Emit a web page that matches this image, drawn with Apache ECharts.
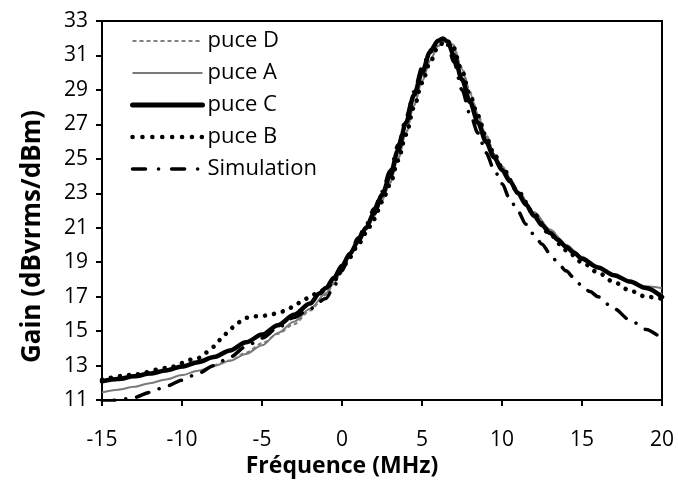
<!DOCTYPE html>
<html>
<head>
<meta charset="utf-8">
<script src="https://cdn.jsdelivr.net/npm/echarts@6/dist/echarts.min.js"></script>
<style>
html,body{margin:0;padding:0;background:#fff;}
#chart{width:678px;height:483px;}
</style>
</head>
<body>
<div id="chart"></div>
<script>
// ---- Data ----
const xTicks = [-15, -10, -5, 0, 5, 10, 15, 20];
const yTicks = [11, 13, 15, 17, 19, 21, 23, 25, 27, 29, 31, 33];

const seriesNames = ['puce D', 'puce A', 'puce C', 'puce B', 'Simulation'];

const puceD_x = [-8, -7, -6, -5, -4, -3, -2, -1, -0.5, 0, 0.5, 1, 1.5, 2, 2.5, 3, 3.5, 4, 4.5, 5, 5.5, 6, 6.5, 6.9, 7.5, 8, 8.5, 9, 9.5, 10, 11, 12, 13, 14, 15, 16, 17, 18, 19, 20];
const puceD_y = [13.0, 13.3, 13.75, 14.3, 14.85, 15.4, 16.2, 17.1, 17.75, 18.6, 19.4, 20.15, 20.9, 21.7, 22.6, 23.6, 25.0, 26.5, 28.1, 29.5, 30.7, 31.55, 31.9, 31.7, 30.3, 28.9, 27.6, 26.4, 25.4, 24.55, 23.1, 21.9, 20.9, 20.0, 19.3, 18.7, 18.2, 17.8, 17.45, 17.15];

const puceA_x = [-15, -14, -13, -12, -11, -10, -9, -8, -7, -6, -5, -4, -3, -2, -1, -0.5, 0, 0.5, 1, 1.5, 2, 2.5, 3, 3.5, 4, 4.5, 5, 5.5, 6, 6.5, 6.9, 7.5, 8, 8.5, 9, 9.5, 10, 11, 12, 13, 14, 15, 16, 17, 18, 19, 20];
const puceA_y = [11.44, 11.6, 11.77, 11.98, 12.2, 12.45, 12.71, 12.98, 13.28, 13.68, 14.18, 14.9, 15.55, 16.3, 17.2, 17.8, 18.6, 19.4, 20.2, 20.9, 21.7, 22.6, 23.6, 25.0, 26.5, 28.1, 29.5, 30.7, 31.55, 31.9, 31.65, 30.2, 28.8, 27.5, 26.3, 25.3, 24.5, 23.1, 21.9, 20.9, 20.0, 19.3, 18.7, 18.2, 17.85, 17.6, 17.49];

const puceC_x = [-15, -14, -13, -12, -11, -10, -9, -8, -7, -6, -5, -4, -3, -2, -1.4, -1, -0.5, 0, 0.5, 1, 1.5, 2, 2.5, 3, 3.5, 4, 4.5, 5, 5.5, 6, 6.3, 6.6, 7, 7.5, 8, 8.5, 9, 9.5, 10, 10.5, 11, 11.5, 12, 12.5, 13, 13.5, 14, 14.5, 15, 16, 17, 18, 19, 20];
const puceC_y = [12.09, 12.22, 12.38, 12.54, 12.72, 12.95, 13.2, 13.5, 13.88, 14.35, 14.8, 15.35, 15.95, 16.6, 17.2, 17.5, 18.1, 18.8, 19.5, 20.2, 21.0, 21.85, 22.9, 24.0, 25.5, 27.1, 28.7, 30.0, 31.2, 31.85, 31.98, 31.8, 31.0, 29.6, 28.3, 27.1, 26.0, 25.1, 24.35, 23.7, 23.0, 22.35, 21.7, 21.15, 20.7, 20.3, 19.9, 19.55, 19.2, 18.7, 18.25, 17.88, 17.5, 16.98];

const puceB_x = [-15, -13, -11, -9, -8.5, -8, -7.5, -7, -6.5, -6, -5.5, -5, -4.5, -4, -3.5, -3, -2.5, -2, -1.5, -1, -0.5, 0, 0.5, 1, 1.5, 2, 2.5, 3, 3.5, 4, 4.5, 5, 5.5, 6, 6.5, 6.9, 7.5, 8, 8.5, 9, 9.5, 10, 11, 12, 13, 14, 15, 16, 17, 18, 19, 20];
const puceB_y = [12.19, 12.48, 12.86, 13.43, 13.76, 14.1, 14.6, 15.12, 15.5, 15.78, 15.86, 15.88, 15.95, 16.05, 16.2, 16.45, 16.75, 17.0, 17.25, 17.45, 17.95, 18.6, 19.3, 20.0, 20.7, 21.5, 22.5, 23.5, 24.9, 26.4, 28.0, 29.4, 30.6, 31.5, 31.9, 31.6, 30.1, 28.7, 27.5, 26.3, 25.3, 24.5, 23.1, 21.8, 20.6, 19.7, 19.0, 18.4, 17.85, 17.35, 17.0, 16.88];

const simu_x = [-15, -14, -13, -12, -11, -10, -9, -8, -7, -6, -5, -4, -3, -2, -1, -0.5, 0, 0.5, 1, 1.5, 2, 2.5, 3, 3.5, 4, 4.5, 5, 5.5, 6, 6.3, 6.6, 7, 7.5, 8, 8.5, 9, 9.5, 10, 10.5, 11, 11.5, 12, 12.5, 13, 13.5, 14, 14.5, 15, 15.5, 16, 17, 18, 19, 20];
const simu_y = [10.85, 11.0, 11.15, 11.45, 11.8, 12.15, 12.55, 13.0, 13.5, 14.1, 14.6, 15.2, 15.8, 16.3, 16.9, 17.6, 18.5, 19.5, 20.4, 21.2, 22.1, 23.1, 24.3, 25.8, 27.4, 28.9, 30.3, 31.3, 31.85, 31.9, 31.6, 30.6, 29.0, 27.6, 26.5, 25.35, 24.4, 23.55, 22.65, 21.95, 21.2, 20.6, 20.05, 19.5, 18.95, 18.5, 18.1, 17.6, 17.3, 17.0, 16.3, 15.65, 15.1, 14.55];

function pairs(xs, ys) { return xs.map((x, i) => [x, ys[i]]); }

const FONT = '"Open Sans", "Liberation Sans", sans-serif';
const chart = echarts.init(document.getElementById('chart'), null, {renderer: 'canvas'});

const common = { type: 'line', symbol: 'none', showSymbol: false, smooth: 0.3, smoothMonotone: 'x', animation: false };

const styles = [
  { color: '#808080', width: 2, type: [4, 3], cap: 'butt' },
  { color: '#7a7a7a', width: 2, type: 'solid', cap: 'butt' },
  { color: '#000', width: 4.5, type: 'solid', cap: 'round' },
  { color: '#000', width: 4.5, type: [0.1, 9], cap: 'round' },
  { color: '#000', width: 3.5, type: [13, 11, 0.1, 11], cap: 'round' }
];
const legendStyles = [
  { color: '#808080', width: 2, type: [4, 3], cap: 'butt' },
  { color: '#7a7a7a', width: 2, type: 'solid', cap: 'butt' },
  { color: '#000', width: 5, type: 'solid', cap: 'round' },
  { color: '#000', width: 4.5, type: [0.1, 9.8], cap: 'round' },
  { color: '#000', width: 3.5, type: [13, 13, 0.1, 13], cap: 'round' }
];

chart.setOption({
  backgroundColor: '#ffffff',
  animation: false,
  grid: { left: 102, right: 16, top: 21, bottom: 79, show: true, borderColor: '#000', borderWidth: 2, backgroundColor: 'transparent' },
  legend: {
    show: true,
    orient: 'vertical', left: 125, top: 25,
    itemWidth: 70, itemHeight: 14, itemGap: 10,
    itemStyle: { color: 'transparent', borderWidth: 0, opacity: 0 },
    data: seriesNames.map((n, i) => ({ name: n, lineStyle: Object.assign({ opacity: 1 }, legendStyles[i]), itemStyle: { color: 'transparent', borderWidth: 0, opacity: 0 } })),
    textStyle: { fontFamily: FONT, fontSize: 22, color: '#000', lineHeight: 22 }
  },
  xAxis: {
    type: 'value', min: xTicks[0], max: xTicks[xTicks.length - 1], interval: 5,
    name: 'Fréquence (MHz)', nameLocation: 'middle', nameGap: 42,
    nameTextStyle: { fontFamily: FONT, fontSize: 23, fontWeight: 'bold', color: '#000', padding: [0, 80, 0, 0] },
    axisLine: { onZero: false, lineStyle: { color: '#000', width: 2 } },
    axisTick: { show: true, inside: false, length: 6, lineStyle: { color: '#000', width: 2 } },
    axisLabel: { fontFamily: FONT, fontSize: 21, color: '#000', margin: 29 },
    splitLine: { show: false }
  },
  yAxis: {
    type: 'value', min: yTicks[0], max: yTicks[yTicks.length - 1], interval: 2,
    name: 'Gain (dBvrms/dBm)', nameLocation: 'middle', nameGap: 56,
    nameTextStyle: { fontFamily: FONT, fontSize: 26, fontWeight: 'bold', color: '#000', padding: [0, 52, 0, 0] },
    axisLine: { onZero: false, lineStyle: { color: '#000', width: 2 } },
    axisTick: { show: true, inside: false, length: 6, lineStyle: { color: '#000', width: 2 } },
    axisLabel: { fontFamily: FONT, fontSize: 21, color: '#000', margin: 14 },
    splitLine: { show: false }
  },
  series: seriesNames.map((n, i) => Object.assign({}, common, {
    name: n,
    data: [pairs(puceD_x, puceD_y), pairs(puceA_x, puceA_y), pairs(puceC_x, puceC_y), pairs(puceB_x, puceB_y), pairs(simu_x, simu_y)][i],
    color: styles[i].color,
    lineStyle: styles[i]
  }))
});
</script>
</body>
</html>
